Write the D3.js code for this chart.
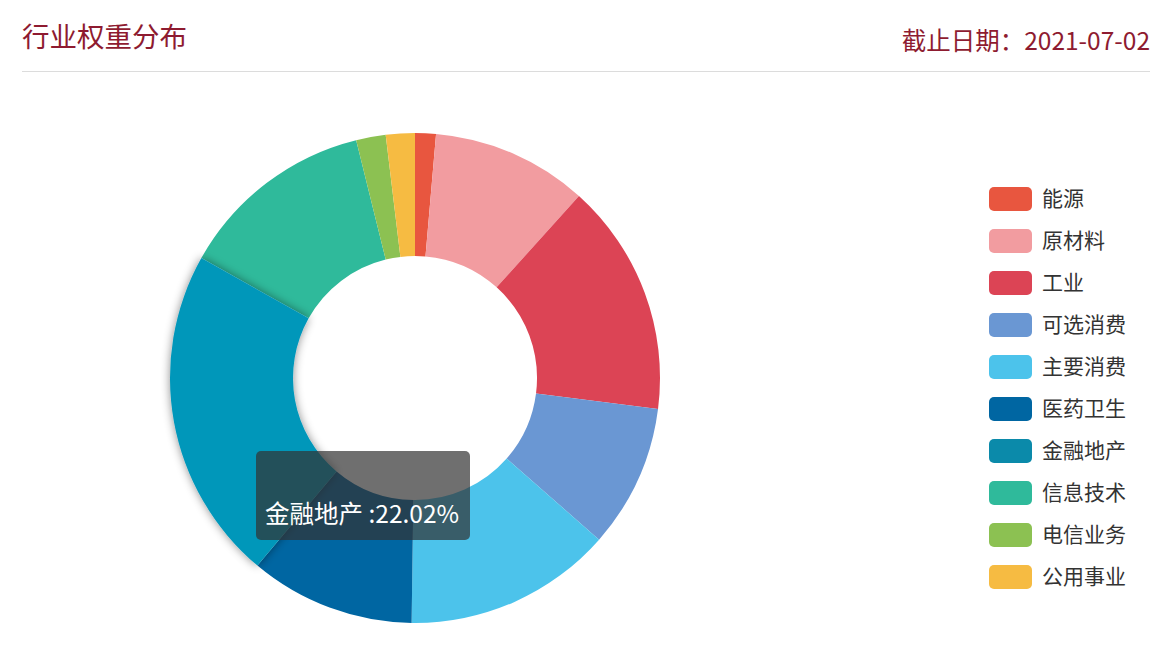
<!DOCTYPE html>
<html>
<head>
<meta charset="utf-8">
<script src="https://cdn.jsdelivr.net/npm/d3@7"></script>
<style>
  body { margin: 0; background: #fff; font-family: "Noto Sans CJK SC", "Noto Sans", sans-serif; }
</style>
</head>
<body>
<div id="chart"></div>
<script>
// sector weights (%)
const sectors = ['能源', '原材料', '工业', '可选消费', '主要消费', '医药卫生', '金融地产', '信息技术', '电信业务', '公用事业'];
const weights = [1.37, 10.30, 15.35, 9.45, 13.75, 10.90, 22.02, 13.00, 1.95, 1.91];
const colors = ['#e8563f', '#f29ca0', '#dc4455', '#6a97d3', '#4cc3eb', '#0066a2', '#0b8aaa', '#2fba9b', '#8cc152', '#f6bb42'];
const highlighted = '金融地产';
const title = '行业权重分布';
const dateLabel = '截止日期：2021-07-02';

const width = 1160, height = 647;
const cx = 415, cy = 378, outerR = 245, innerR = 122;

const svg = d3.select('#chart').append('svg')
  .attr('width', width)
  .attr('height', height);

const defs = svg.append('defs');
const shadow = defs.append('filter').attr('id', 'shadow')
  .attr('x', '-30%').attr('y', '-30%').attr('width', '160%').attr('height', '160%');
shadow.append('feDropShadow')
  .attr('dx', 0).attr('dy', 0).attr('stdDeviation', 5)
  .attr('flood-color', '#000').attr('flood-opacity', 0.45);

// header
svg.append('text')
  .attr('x', 22).attr('y', 47)
  .attr('font-size', 27.5)
  .attr('fill', '#8e1b30')
  .text(title);

svg.append('text')
  .attr('x', 1150).attr('y', 50)
  .attr('text-anchor', 'end')
  .attr('font-size', 24.5)
  .attr('fill', '#8e1b30')
  .text(dateLabel);

svg.append('line')
  .attr('x1', 22).attr('x2', 1150)
  .attr('y1', 71.5).attr('y2', 71.5)
  .attr('stroke', '#dcdcdc');

// donut
const data = sectors.map((s, i) => ({name: s, value: weights[i], color: colors[i]}));
const pie = d3.pie().sort(null).value(d => d.value);
const arc = d3.arc().innerRadius(innerR).outerRadius(outerR);
const arcs = pie(data);

const g = svg.append('g').attr('transform', `translate(${cx},${cy})`);

g.selectAll('path.slice')
  .data(arcs.filter(d => d.data.name !== highlighted))
  .enter()
  .append('path')
  .attr('class', 'slice')
  .attr('d', arc)
  .attr('fill', d => d.data.color);

// hovered slice drawn last so its shadow sits on top
const hi = arcs.find(d => d.data.name === highlighted);
g.append('path')
  .attr('d', arc(hi))
  .attr('fill', '#0697ba')
  .attr('filter', 'url(#shadow)');

// legend
const legend = svg.append('g').attr('transform', 'translate(989,187)');
const item = legend.selectAll('g')
  .data(data)
  .enter()
  .append('g')
  .attr('transform', (d, i) => `translate(0,${i * 42})`);

item.append('rect')
  .attr('width', 43).attr('height', 24)
  .attr('rx', 5).attr('ry', 5)
  .attr('fill', d => d.color);

item.append('text')
  .attr('x', 53).attr('y', 19)
  .attr('font-size', 21)
  .attr('fill', '#333')
  .text(d => d.name);

// tooltip
const tip = svg.append('g').attr('transform', 'translate(256,451)');
tip.append('rect')
  .attr('width', 214).attr('height', 89)
  .attr('rx', 5).attr('ry', 5)
  .attr('fill', 'rgba(50,50,50,0.7)');
tip.append('text')
  .attr('x', 9).attr('y', 72)
  .attr('font-size', 24.5)
  .attr('fill', '#fff')
  .text(`${hi.data.name} :${d3.format('.2f')(hi.data.value)}%`);
</script>
</body>
</html>
